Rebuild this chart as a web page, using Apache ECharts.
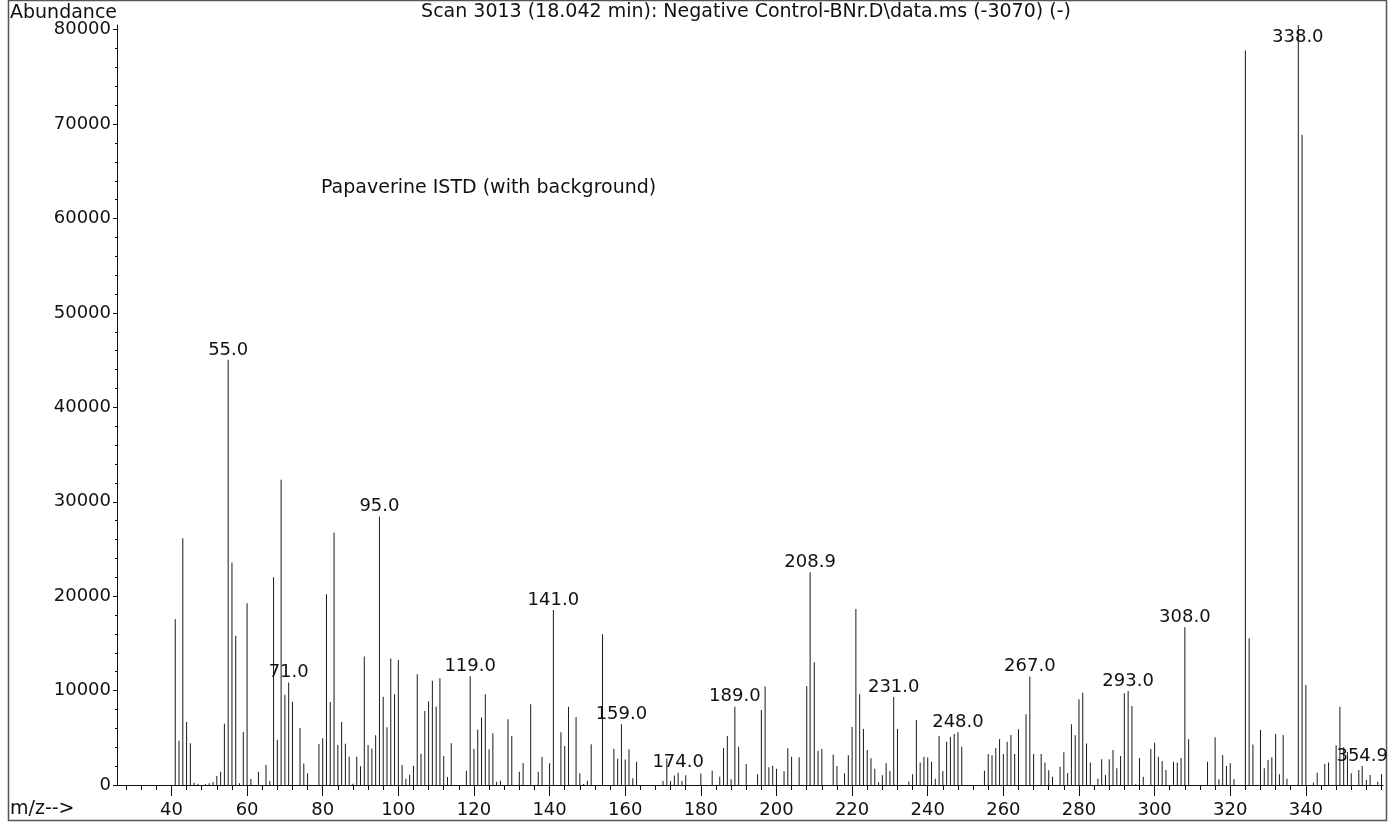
<!DOCTYPE html>
<html>
<head>
<meta charset="utf-8">
<script src="https://cdn.jsdelivr.net/npm/echarts@6/dist/echarts.min.js"></script>
<style>html,body{margin:0;padding:0;background:#fff}#c{width:1388px;height:823px}</style>
</head>
<body>
<div id="c"></div>
<script>
// m/z values of the spectrum lines
const mz = [41,42,43,44,45,46,47,49,50,51,52,53,54,55,56,57,58,59,60,61,63,65,66,67,68,69,70,71,72,74,75,76,79,80,81,82,83,84,85,86,87,88,89,90,91,92,93,94,95,96,97,98,99,100,101,102,103,104,105,106,107,108,109,110,111,112,113,114,118,119,120,121,122,123,124,125,126,127,129,130,132,133,135,137,138,140,141,143,144,145,147,148,149,150,151,154,157,158,159,160,161,162,163,170,171,172,173,174,175,176,180,183,185,186,187,188,189,190,192,195,196,197,198,199,200,202,203,204,206,208,208.9,210,211,212,215,216,218,219,220,221,222,223,224,225,226,227,228,229,230,231,232,235,236,237,238,239,240,241,242,243,244,245,246,247,248,249,255,256,257,258,259,260,261,262,263,264,266,267,268,270,271,272,273,275,276,277,278,279,280,281,282,283,285,286,287,288,289,290,291,292,293,294,295,296,297,299,300,301,302,303,305,306,307,308,309,314,316,317,318,319,320,321,324,325,326,328,329,330,331,332,333,334,335,338,339,340,342,343,345,346,348,349,350,351,352,354,354.9,356,357,359,360];
// abundance for each m/z
const abundance = [17560,4700,26140,6680,4420,250,130,100,180,320,950,1410,6500,45030,23560,15820,180,5620,19250,640,1410,2120,420,22010,4800,32320,9570,10860,8820,6030,2280,1240,4350,4960,20200,8780,26740,4250,6680,4370,2990,130,2990,1980,13600,4240,3870,5280,28430,9360,6130,13400,9610,13250,2120,670,1080,2050,11730,3300,7840,8880,11030,8310,11320,3070,850,4420,1500,11530,3850,5870,7140,9610,3780,5480,350,460,6960,5190,1410,2330,8550,1410,3000,2300,18540,5580,4130,8300,7200,1240,100,460,4320,15970,3830,2780,6430,2700,3780,710,2460,420,2800,430,1000,1300,420,1030,1220,1500,880,3920,5190,600,8300,4060,2230,1150,7950,10420,1870,2050,1730,1450,3890,2990,2950,10490,22540,13000,3640,3850,3230,2010,1240,3150,6150,18650,9610,5930,3700,2840,1710,280,1040,2300,1480,9330,5930,380,1130,6890,2370,3000,2920,2450,660,5190,1480,4590,5090,5400,5580,4060,1500,3290,3150,3930,4870,3290,4590,5300,3290,5900,7490,11480,3290,3290,2370,1550,870,1920,3480,1270,6430,5270,9080,9780,4400,2380,690,2730,1060,2730,3710,1780,3080,9710,9960,8370,80,2870,880,3810,4480,3000,2540,1590,2470,2370,2860,16710,4840,2470,5050,600,3180,2010,2300,600,77810,15540,4300,5830,1780,2650,2930,5400,1130,5300,670,80500,68870,10600,250,1300,2230,2370,4200,8300,4000,3500,1240,1590,2010,530,1060,350,1170];
// peaks that carry an m/z label
const labelledPeaks = [55,71,95,119,141,159,174,189,208.9,231,248,267,293,308,338,354.9];
// axis tick values
const xLabelTicks = [40,60,80,100,120,140,160,180,200,220,240,260,280,300,320,340];
const xMinorTicks = [];
for (let v = 28; v <= 360; v += 4) xMinorTicks.push(v);
const yLabelTicks = [0,10000,20000,30000,40000,50000,60000,70000,80000];
const yMinorTicks = [];
for (let v = 0; v <= 80000; v += 2000) yMinorTicks.push(v);

const FONT = 'DejaVu Sans';
const INK = '#111';

const data = mz.map((m, i) => {
  const item = { value: [m, abundance[i]] };
  if (labelledPeaks.indexOf(m) >= 0) {
    item.label = { show: true };
    if (m === 338) {
      item.label = { show: true, position: [0, 3], align: 'center', verticalAlign: 'top' };
    }
  }
  return item;
});

const chart = echarts.init(document.getElementById('c'), null, { renderer: 'canvas' });
const xBase = { type: 'value', min: 25.6, max: 360.4, gridIndex: 0 };
const yBase = { type: 'value', min: 0, max: 80500, gridIndex: 0 };
chart.setOption({
  animation: false,
  textStyle: { fontFamily: FONT, color: INK },
  grid: { left: 117, right: 5, top: 25, bottom: 38, containLabel: false },
  xAxis: [
    Object.assign({}, xBase, {
      position: 'bottom',
      axisLine: { show: true, onZero: false, lineStyle: { color: INK, width: 1 } },
      axisTick: { show: true, customValues: xLabelTicks, length: 11, inside: false, lineStyle: { color: INK, width: 1 } },
      axisLabel: { show: true, customValues: xLabelTicks, margin: 16, fontSize: 18, fontFamily: FONT, color: INK, formatter: v => String(v) },
      splitLine: { show: false }
    }),
    Object.assign({}, xBase, {
      position: 'bottom',
      axisLine: { show: false, onZero: false },
      axisTick: { show: true, customValues: xMinorTicks, length: 5, lineStyle: { color: INK, width: 1 } },
      axisLabel: { show: false },
      splitLine: { show: false }
    })
  ],
  yAxis: [
    Object.assign({}, yBase, {
      position: 'left',
      axisLine: { show: true, lineStyle: { color: INK, width: 1 } },
      axisTick: { show: true, customValues: yLabelTicks, length: 4, lineStyle: { color: INK } },
      axisLabel: { show: true, customValues: yLabelTicks, margin: 6, fontSize: 18, fontFamily: FONT, color: INK, formatter: v => String(v) },
      splitLine: { show: false }
    }),
    Object.assign({}, yBase, {
      position: 'left',
      axisLine: { show: false },
      axisTick: { show: true, customValues: yMinorTicks, length: 2, lineStyle: { color: INK } },
      axisLabel: { show: false },
      splitLine: { show: false }
    })
  ],
  series: [{
    type: 'bar',
    xAxisIndex: 0,
    yAxisIndex: 0,
    barWidth: 1,
    itemStyle: { color: '#1a1a1a' },
    label: {
      show: false,
      position: 'top',
      distance: 1,
      fontSize: 18,
      fontFamily: FONT,
      color: INK,
      formatter: p => p.value[0].toFixed(1)
    },
    data: data,
    clip: false
  }],
  graphic: [
    { type: 'rect', shape: { x: 8.5, y: 0.5, width: 1378, height: 820 }, style: { fill: null, stroke: '#555', lineWidth: 1.5 }, silent: true },
    { type: 'text', x: 10, y: 13, style: { text: 'Abundance', font: '19px "DejaVu Sans"', fill: INK, align: 'left', verticalAlign: 'middle' } },
    { type: 'text', x: 746, y: 12, style: { text: 'Scan 3013 (18.042 min): Negative Control-BNr.D\\data.ms (-3070) (-)', font: '19px "DejaVu Sans"', fill: INK, align: 'center', verticalAlign: 'middle' } },
    { type: 'text', x: 321, y: 188, style: { text: 'Papaverine ISTD (with background)', font: '19px "DejaVu Sans"', fill: INK, align: 'left', verticalAlign: 'middle' } },
    { type: 'text', x: 10, y: 809, style: { text: 'm/z-->', font: '19px "DejaVu Sans"', fill: INK, align: 'left', verticalAlign: 'middle' } }
  ]
});
</script>
</body>
</html>
